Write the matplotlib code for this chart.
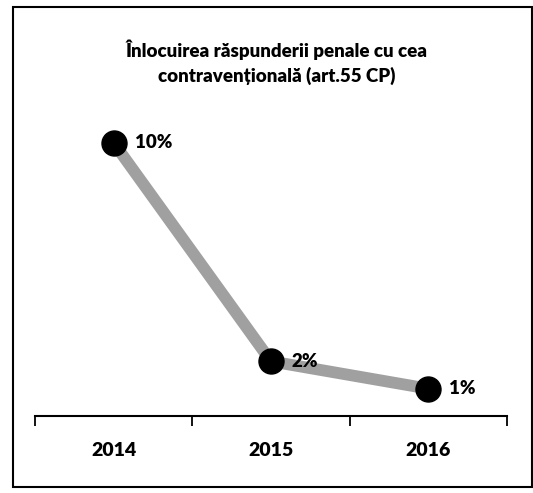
import matplotlib
matplotlib.use("Agg")
import matplotlib.pyplot as plt
from matplotlib.patches import Rectangle

years = ["2014", "2015", "2016"]
values = [10, 2, 1]
labels = ["10%", "2%", "1%"]
title = "Înlocuirea răspunderii penale cu cea\ncontravențională (art.55 CP)"

plt.rcParams['font.family'] = ['Lato', 'DejaVu Sans']

fig = plt.figure(figsize=(5.33, 4.93), dpi=100)
ax = fig.add_axes([35/533, 1-416/493, 472/533, 0.665])

x = list(range(len(years)))
ax.plot(x, values, color="#a0a0a0", lw=8.5, solid_capstyle="round", zorder=2)
ax.plot(x, values, ls="none", marker="o", ms=18, color="black", zorder=3)
for xi, v, lab in zip(x, values, labels):
    ax.annotate(lab, (xi, v), xytext=(15, 0), textcoords="offset points",
                ha="left", va="center", fontsize=13.5, fontweight="heavy")

ax.set_xlim(-0.5, 2.5)
ax.set_ylim(0, 12)
ax.set_yticks([])
ax.set_xticks([-0.5, 0.5, 1.5, 2.5])
ax.set_xticklabels([])
ax.set_xticks(x, minor=True)
ax.set_xticklabels(years, minor=True, fontsize=14, fontweight="heavy")
ax.tick_params(axis="x", which="major", direction="out", length=7, width=1.3)
ax.tick_params(axis="x", which="minor", length=0, pad=19)
for s in ["top", "right", "left"]:
    ax.spines[s].set_visible(False)
ax.spines["bottom"].set_linewidth(1.5)

fig.text(277/533, 1-62/493, title, ha="center", va="center",
         fontsize=13.5, fontweight="heavy", linespacing=1.45)

fig.patches.append(Rectangle((13/533, 6/493), 519/533, 480/493, transform=fig.transFigure,
                             fill=False, edgecolor="black", lw=1.5))

fig.savefig("out.png", dpi=100)
